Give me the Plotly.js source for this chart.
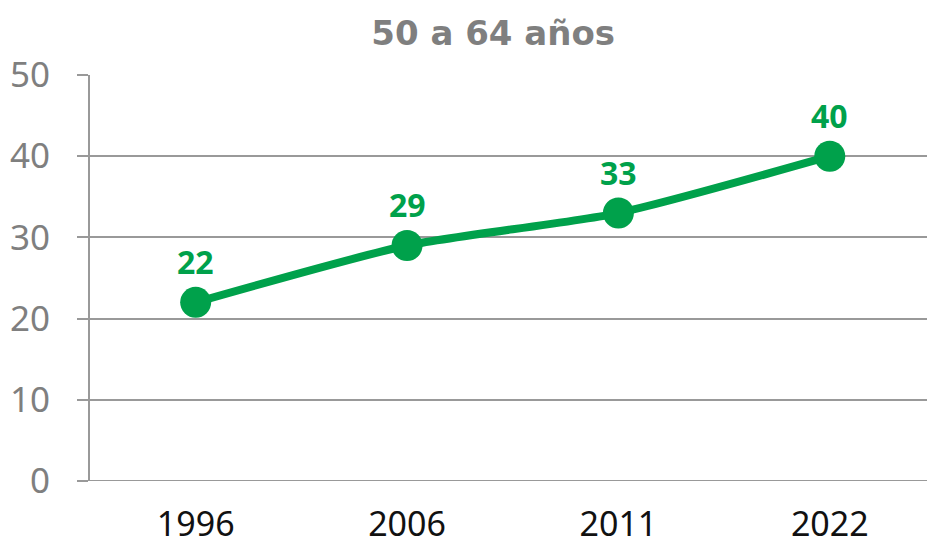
<!DOCTYPE html>
<html><head><meta charset="utf-8">
<script src="https://cdn.plot.ly/plotly-3.0.1.min.js"></script>
<style>html,body{margin:0;padding:0;background:#fff}#chart{width:927px;height:545px}</style>
</head><body><div id="chart"></div>
<script>
const years = ['1996','2006','2011','2022'];
const values = [22, 29, 33, 40];
const yTicks = [0, 10, 20, 30, 40, 50];
const green = '#00A14B';
const grey = '#7f7f7f';

const trace = {
  x: years, y: values, type: 'scatter', mode: 'lines+markers',
  line: {color: green, width: 8, shape: 'spline', smoothing: 0.6},
  marker: {color: green, size: 31},
  hoverinfo: 'skip', cliponaxis: false
};

const annotations = years.map((yr, i) => ({
  x: i, y: values[i], xref: 'x', yref: 'y', text: '<b>' + values[i] + '</b>', showarrow: false,
  yshift: 41, font: {family: 'Noto Sans', size: 32, color: green}
}));

const layout = {
  width: 927, height: 545,
  margin: {l: 90, r: 0, t: 75, b: 64},
  paper_bgcolor: '#fff', plot_bgcolor: '#fff',
  showlegend: false,
  title: {text: '<b>50 a 64 años</b>', x: 0.532, xanchor: 'center', y: 0.94, yanchor: 'middle',
          font: {family: 'DejaVu Sans', size: 34, color: grey}},
  xaxis: {type: 'category', range: [-0.5, 3.46], showgrid: false, zeroline: false,
          showline: false, ticks: '', tickfont: {family: 'Noto Sans', size: 34, color: '#111'},
          ticklabelstandoff: 20, fixedrange: true},
  yaxis: {range: [0, 50], tickvals: yTicks, ticktext: yTicks.map(String),
          showgrid: true, gridcolor: '#999', gridwidth: 2, zeroline: false,
          showline: true, linecolor: '#999', linewidth: 2,
          ticks: 'outside', ticklen: 11, tickcolor: '#999', tickwidth: 2,
          tickfont: {family: 'Noto Sans', size: 35, color: grey}, ticklabelstandoff: 20, fixedrange: true},
  shapes: [{type: 'line', xref: 'paper', yref: 'y', x0: -0.013, x1: 1, y0: 0, y1: 0,
            line: {color: '#999', width: 2}}],
  annotations: annotations
};
Plotly.newPlot('chart', [trace], layout, {displayModeBar: false, staticPlot: true});
</script></body></html>
